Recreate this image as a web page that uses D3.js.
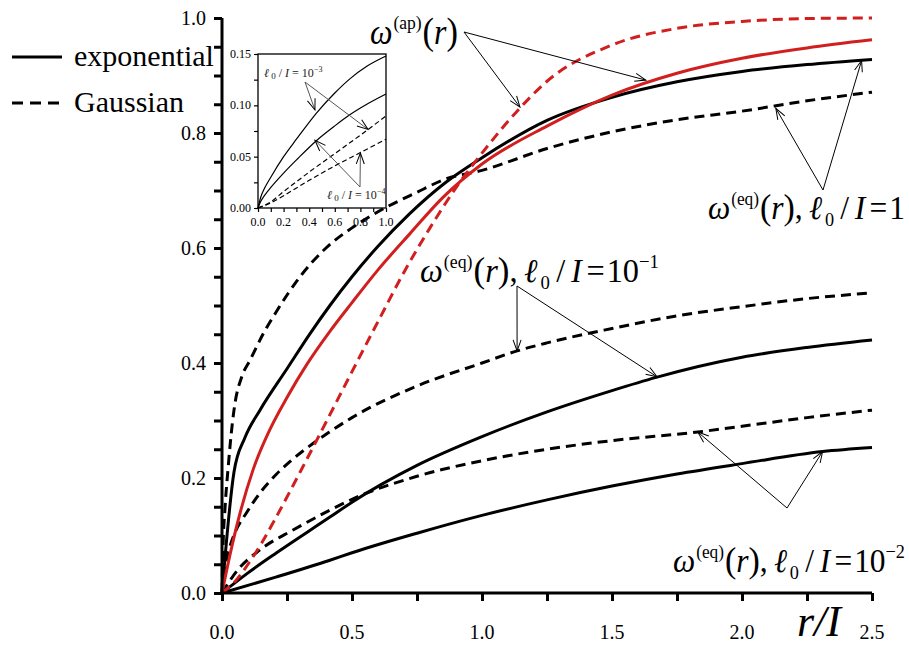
<!DOCTYPE html>
<html>
<head>
<meta charset="utf-8">
<script src="https://cdn.jsdelivr.net/npm/d3@7"></script>
</head>
<body style="margin:0;background:#fff">
<div id="chart"></div>
<script>
// curves, [r/I, omega]
const expEq1 = [[0,0],[0.046,0.21],[0.088,0.27],[0.146,0.318],[0.25,0.39],[0.34,0.452],[0.415,0.5],[0.5,0.55],[0.6,0.603],[0.72,0.659],[0.86,0.714],[1.0,0.757],[1.25,0.822],[1.5,0.862],[1.75,0.889],[2.0,0.907],[2.25,0.919],[2.5,0.928]];
const gaussEq1 = [[0,0],[0.004,0.08],[0.012,0.15],[0.024,0.22],[0.04,0.296],[0.05,0.33],[0.076,0.376],[0.108,0.405],[0.16,0.452],[0.21,0.49],[0.3,0.55],[0.4,0.6],[0.5,0.635],[0.6,0.663],[0.75,0.697],[0.86,0.72],[1.0,0.735],[1.25,0.773],[1.5,0.802],[1.75,0.823],[2.0,0.838],[2.25,0.856],[2.5,0.871]];
const expAp = [[0,0],[0.03,0.065],[0.07,0.14],[0.12,0.215],[0.185,0.285],[0.25,0.34],[0.327,0.398],[0.415,0.455],[0.5,0.505],[0.6,0.562],[0.723,0.625],[0.85,0.688],[1.0,0.746],[1.25,0.812],[1.5,0.866],[1.75,0.904],[2.0,0.93],[2.25,0.948],[2.5,0.962]];
const gaussAp = [[0,0],[0.05,0.02],[0.1,0.05],[0.15,0.085],[0.2,0.125],[0.3,0.21],[0.4,0.297],[0.5,0.385],[0.6,0.472],[0.7,0.558],[0.8,0.635],[0.9,0.705],[1.0,0.765],[1.135,0.838],[1.25,0.89],[1.5,0.953],[1.75,0.982],[2.0,0.994],[2.25,0.999],[2.5,1.0]];
const expEq01 = [[0,0],[0.1,0.035],[0.21,0.07],[0.415,0.132],[0.5,0.158],[0.75,0.222],[1.0,0.272],[1.25,0.315],[1.5,0.352],[1.67,0.375],[2.0,0.41],[2.25,0.427],[2.5,0.44]];
const gaussEq01 = [[0,0],[0.01,0.04],[0.03,0.08],[0.05,0.105],[0.095,0.14],[0.146,0.174],[0.21,0.207],[0.26,0.228],[0.35,0.26],[0.41,0.279],[0.5,0.305],[0.75,0.36],[1.0,0.4],[1.135,0.421],[1.25,0.435],[1.5,0.46],[1.75,0.482],[2.0,0.498],[2.25,0.512],[2.5,0.522]];
const expEq001 = [[0,0],[0.21,0.028],[0.415,0.057],[0.5,0.07],[0.75,0.104],[1.0,0.135],[1.25,0.162],[1.5,0.186],[1.75,0.207],[2.0,0.225],[2.31,0.246],[2.5,0.253]];
const gaussEq001 = [[0,0],[0.06,0.04],[0.146,0.075],[0.275,0.11],[0.415,0.144],[0.5,0.163],[0.75,0.203],[1.0,0.23],[1.25,0.25],[1.5,0.265],[1.83,0.28],[2.0,0.29],[2.25,0.305],[2.5,0.318]];

// inset curves
const insetExp3 = [[0,0],[0.02,0.01],[0.05,0.019],[0.1,0.03],[0.2,0.05],[0.3,0.067],[0.46,0.093],[0.6,0.112],[0.72,0.126],[0.85,0.138],[1.0,0.148]];
const insetExp4 = [[0,0],[0.02,0.006],[0.05,0.012],[0.1,0.02],[0.2,0.034],[0.31,0.048],[0.46,0.066],[0.6,0.08],[0.72,0.091],[0.85,0.101],[1.0,0.111]];
const insetGauss3 = [[0,0],[0.1,0.006],[0.2,0.016],[0.4,0.035],[0.6,0.053],[0.8,0.071],[1.0,0.0896]];
const insetGauss4 = [[0,0],[0.1,0.005],[0.2,0.012],[0.4,0.027],[0.6,0.041],[0.8,0.054],[1.0,0.067]];

const xTicks = [0, 0.5, 1.0, 1.5, 2.0, 2.5];
const yTicks = [0, 0.2, 0.4, 0.6, 0.8, 1.0];
const insetXTicks = [0, 0.2, 0.4, 0.6, 0.8, 1.0];
const insetYTicks = [0, 0.05, 0.10, 0.15];

const RED = '#d11f1f';
const FONT = '"Liberation Serif", "Times New Roman", serif';
const width = 909, height = 649;

const svg = d3.select('#chart').append('svg')
    .attr('width', width)
    .attr('height', height);

svg.append('defs').append('marker')
    .attr('id', 'arr')
    .attr('viewBox', '-12 -6 14 12')
    .attr('refX', 0).attr('refY', 0)
    .attr('markerWidth', 14).attr('markerHeight', 12)
    .attr('markerUnits', 'userSpaceOnUse')
    .attr('orient', 'auto')
    .append('path')
    .attr('d', 'M-11,-4 L0,0 L-11,4')
    .attr('fill', 'none')
    .attr('stroke', '#000')
    .attr('stroke-width', 1);

const x = d3.scaleLinear().domain([0, 2.5]).range([222, 872]);
const y = d3.scaleLinear().domain([0, 1]).range([593, 18]);

const line = d3.line()
    .x(d => x(d[0]))
    .y(d => y(d[1]))
    .curve(d3.curveMonotoneX);

const series = [
    { data: gaussEq001, color: '#000', dash: '10,6' },
    { data: expEq001, color: '#000', dash: null },
    { data: gaussEq01, color: '#000', dash: '10,6' },
    { data: expEq01, color: '#000', dash: null },
    { data: gaussEq1, color: '#000', dash: '10,6' },
    { data: expEq1, color: '#000', dash: null },
    { data: gaussAp, color: RED, dash: '10,6' },
    { data: expAp, color: RED, dash: null }
];

svg.append('g').selectAll('path')
    .data(series)
    .join('path')
    .attr('d', d => line(d.data))
    .attr('fill', 'none')
    .attr('stroke', d => d.color)
    .attr('stroke-width', 3)
    .attr('stroke-dasharray', d => d.dash);

// axes
const xAxis = svg.append('g')
    .attr('transform', `translate(0,${y(0)})`)
    .call(d3.axisBottom(x).tickValues(d3.range(0, 2.51, 0.25)).tickSize(8).tickFormat(''));
const yAxis = svg.append('g')
    .attr('transform', `translate(${x(0)},0)`)
    .call(d3.axisLeft(y).tickValues(d3.range(0, 1.001, 0.05)).tickSize(8).tickFormat(''));
[xAxis, yAxis].forEach(g => {
    g.select('.domain').attr('stroke-width', 3);
    g.selectAll('.tick line').attr('stroke-width', 3);
});
xAxis.select('.domain').attr('d', `M${x(0)},0H${x(2.5)}`);
yAxis.select('.domain').attr('d', `M0,${y(0)}V${y(1)}`);

svg.append('g').selectAll('text')
    .data(xTicks)
    .join('text')
    .attr('x', d => x(d))
    .attr('y', 639)
    .attr('text-anchor', 'middle')
    .attr('font-size', 20)
    .text(d => d.toFixed(1));

svg.append('g').selectAll('text')
    .data(yTicks)
    .join('text')
    .attr('x', 206)
    .attr('y', d => y(d) + 7)
    .attr('text-anchor', 'end')
    .attr('font-size', 20)
    .text(d => d.toFixed(1));

// axis title r/I
svg.append('text')
    .attr('x', 819).attr('y', 636)
    .attr('text-anchor', 'middle')
    .attr('font-size', 44)
    .attr('font-style', 'italic')
    .text('r/I');

// legend
svg.append('line').attr('x1', 12).attr('x2', 62).attr('y1', 57).attr('y2', 57)
    .attr('stroke', '#000').attr('stroke-width', 3);
svg.append('text').attr('x', 74).attr('y', 66).attr('font-size', 30).text('exponential');
svg.append('line').attr('x1', 12).attr('x2', 64).attr('y1', 103).attr('y2', 103)
    .attr('stroke', '#000').attr('stroke-width', 3).attr('stroke-dasharray', '11,7');
svg.append('text').attr('x', 74).attr('y', 112).attr('font-size', 30).text('Gaussian');

// labels with math; built at the origin then stretched to the box [left, right]
function omegaLabel(g, left, right, base, sup, tail, S) {
    const t = g.append('text').attr('font-size', S).style('font-family', FONT);
    t.append('tspan').attr('font-style', 'italic').text('ω');
    t.append('tspan').attr('font-size', S * 0.55).attr('dy', -S * 0.42).attr('dx', 1).text('(' + sup + ')');
    t.append('tspan').attr('dy', S * 0.42).attr('dx', 1).attr('font-size', S * 1.08).text('(');
    t.append('tspan').attr('font-style', 'italic').text('r');
    t.append('tspan').attr('font-size', S * 1.08).text(')');
    if (tail) {
        t.append('tspan').text(',');
        t.append('tspan').attr('font-style', 'italic').attr('dx', S * 0.2).text('ℓ');
        t.append('tspan').attr('font-size', S * 0.58).attr('dy', S * 0.2).attr('dx', 3).text('0');
        t.append('tspan').attr('dy', -S * 0.2).attr('dx', S * 0.2).text('/');
        t.append('tspan').attr('font-style', 'italic').attr('dx', S * 0.18).text('I');
        t.append('tspan').attr('dx', S * 0.14).text('=');
        t.append('tspan').attr('dx', S * 0.06).text(tail.base);
        if (tail.exp) {
            t.append('tspan').attr('font-size', S * 0.58).attr('dy', -S * 0.42).text(tail.exp);
        }
    }
    const w = t.node().getBBox().width;
    t.attr('transform', `translate(${left},${base}) scale(${(right - left) / w},1)`);
    return t;
}

const ann = svg.append('g');
omegaLabel(ann, 370, 458, 44, 'ap', null, 35);
omegaLabel(ann, 708, 905, 219, 'eq', { base: '1' }, 33);
omegaLabel(ann, 420, 659, 282, 'eq', { base: '10', exp: '−1' }, 33);
omegaLabel(ann, 673, 905, 572, 'eq', { base: '10', exp: '−2' }, 33);

function arrow(g, from, to, color) {
    g.append('line')
        .attr('x1', from[0]).attr('y1', from[1])
        .attr('x2', to[0]).attr('y2', to[1])
        .attr('stroke', color || '#000')
        .attr('stroke-width', 1)
        .attr('marker-end', 'url(#arr)');
}
// arrow tips placed on curves (data coords)
const P = d => [x(d[0]), y(d[1])];
arrow(ann, [464, 32], P([1.146, 0.845]));
arrow(ann, [464, 32], P([1.63, 0.892]));
arrow(ann, [823, 190], P([2.13, 0.843]));
arrow(ann, [823, 190], P([2.46, 0.926]));
arrow(ann, [517, 286], P([1.135, 0.421]));
arrow(ann, [517, 286], P([1.673, 0.376]));
arrow(ann, [787, 508], P([1.83, 0.28]));
arrow(ann, [787, 508], P([2.31, 0.246]));

// inset
const ix = d3.scaleLinear().domain([0, 1]).range([258, 386]);
const iy = d3.scaleLinear().domain([0, 0.15]).range([208, 54]);
const inset = svg.append('g');
inset.append('rect')
    .attr('x', ix(0)).attr('y', iy(0.15))
    .attr('width', ix(1) - ix(0)).attr('height', iy(0) - iy(0.15))
    .attr('fill', '#fff').attr('stroke', '#000').attr('stroke-width', 1.3);

const iline = d3.line().x(d => ix(d[0])).y(d => iy(d[1])).curve(d3.curveMonotoneX);
inset.selectAll('path.c')
    .data([
        { data: insetExp3, dash: null },
        { data: insetExp4, dash: null },
        { data: insetGauss3, dash: '5,3' },
        { data: insetGauss4, dash: '5,3' }
    ])
    .join('path')
    .attr('class', 'c')
    .attr('d', d => iline(d.data))
    .attr('fill', 'none')
    .attr('stroke', '#000')
    .attr('stroke-width', 1.2)
    .attr('stroke-dasharray', d => d.dash);

const ixAxis = inset.append('g')
    .attr('transform', `translate(0,${iy(0)})`)
    .call(d3.axisBottom(ix).tickValues(d3.range(0, 1.01, 0.1)).tickSize(4).tickFormat(''));
const iyAxis = inset.append('g')
    .attr('transform', `translate(${ix(0)},0)`)
    .call(d3.axisLeft(iy).tickValues(d3.range(0, 0.151, 0.025)).tickSize(4).tickFormat(''));
[ixAxis, iyAxis].forEach(g => {
    g.select('.domain').remove();
    g.selectAll('.tick line').attr('stroke-width', 1.2);
});

inset.append('g').selectAll('text')
    .data(insetXTicks)
    .join('text')
    .attr('x', d => ix(d))
    .attr('y', 226)
    .attr('text-anchor', 'middle')
    .attr('font-size', 12)
    .text(d => d.toFixed(1));
inset.append('g').selectAll('text')
    .data(insetYTicks)
    .join('text')
    .attr('x', 251)
    .attr('y', d => iy(d) + 4)
    .attr('text-anchor', 'end')
    .attr('font-size', 12)
    .text(d => d.toFixed(2));

function smallLabel(px, py, exp) {
    const t = inset.append('text').attr('x', px).attr('y', py).attr('font-size', 12).attr('fill', '#222');
    t.append('tspan').attr('font-style', 'italic').text('ℓ');
    t.append('tspan').attr('font-size', 9).attr('dy', 2).text(' 0');
    t.append('tspan').attr('dy', -2).text(' / ');
    t.append('tspan').attr('font-style', 'italic').text('I');
    t.append('tspan').text(' = 10');
    t.append('tspan').attr('font-size', 8).attr('dy', -5).text(exp);
}
smallLabel(264, 77, '−3');
smallLabel(327, 199, '−4');

const IP = d => [ix(d[0]), iy(d[1])];
arrow(inset, [305, 82], IP([0.445, 0.0955]), '#555');
arrow(inset, [305, 82], IP([0.86, 0.0765]), '#555');
arrow(inset, [360, 187], IP([0.445, 0.066]), '#555');
arrow(inset, [360, 187], IP([0.8, 0.0536]), '#555');

svg.selectAll('text').style('font-family', FONT);
</script>
</body>
</html>
